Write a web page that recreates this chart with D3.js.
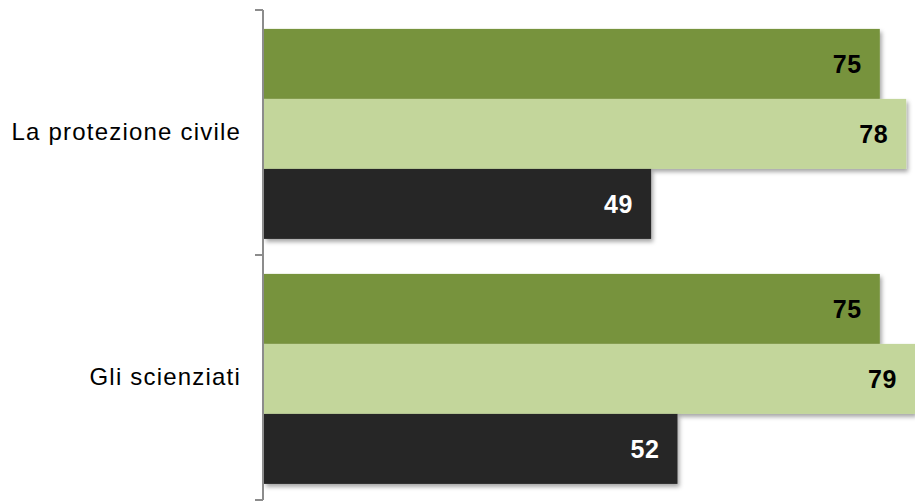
<!DOCTYPE html>
<html>
<head>
<meta charset="utf-8">
<script src="https://cdn.jsdelivr.net/npm/d3@7"></script>
<style>
  html, body { margin: 0; padding: 0; background: #ffffff; }
  svg { display: block; }
</style>
</head>
<body>
<svg id="chart" width="915" height="501"></svg>
<script>
// Categories (top to bottom) and the three series per category
const categories = ["La protezione civile", "Gli scienziati"];
const seriesKeys = ["s1", "s2", "s3"];
const seriesColors = ["#77933C", "#C3D69B", "#262626"];
const labelColors = ["#000000", "#000000", "#ffffff"];
const valuesS1 = [75, 75];
const valuesS2 = [78, 79];
const valuesS3 = [49, 52];
const seriesValues = [valuesS1, valuesS2, valuesS3];

const svg = d3.select("#chart");

const plotLeft = 264, plotRight = 915, plotTop = 10, plotBottom = 500;

// Drop shadow under the bars
const defs = svg.append("defs");
const f = defs.append("filter").attr("id", "shadow")
  .attr("x", "-5%").attr("y", "-20%").attr("width", "115%").attr("height", "150%");
f.append("feDropShadow").attr("dx", 2).attr("dy", 3)
  .attr("stdDeviation", 2.2).attr("flood-color", "#000").attr("flood-opacity", 0.35);

const x = d3.scaleLinear().domain([5, 79]).range([plotLeft, plotRight]);
const y = d3.scaleBand().domain(categories).range([plotTop, plotBottom]).paddingInner(0).paddingOuter(0);
const ySub = d3.scaleBand().domain(seriesKeys).range([0, y.bandwidth()])
  .paddingInner(0).paddingOuter(0.25).align(0.54);

const rows = [];
categories.forEach((c, ci) => {
  seriesKeys.forEach((k, si) => {
    rows.push({ cat: c, key: k, si, value: seriesValues[si][ci] });
  });
});

svg.append("g").selectAll("rect").data(rows).join("rect")
  .attr("x", x(5))
  .attr("y", d => y(d.cat) + ySub(d.key))
  .attr("width", d => x(d.value) - x(5))
  .attr("height", ySub.bandwidth())
  .attr("fill", d => seriesColors[d.si])
  .attr("filter", "url(#shadow)");

// Value labels inside the bar ends
svg.append("g").selectAll("text").data(rows).join("text")
  .attr("x", d => x(d.value) - 18)
  .attr("y", d => y(d.cat) + ySub(d.key) + ySub.bandwidth() / 2)
  .attr("dy", "0.36em")
  .attr("text-anchor", "end")
  .attr("font-family", "Liberation Sans, Arial, sans-serif")
  .attr("font-weight", "bold")
  .attr("font-size", 25)
  .attr("letter-spacing", 0.6)
  .attr("fill", d => labelColors[d.si])
  .text(d => d.value);

// Category axis
const yAxis = d3.axisLeft(y).tickSize(0).tickPadding(23);
const ax = svg.append("g").attr("transform", `translate(${plotLeft},0)`).call(yAxis);
ax.select(".domain").remove();
ax.selectAll("text")
  .attr("font-family", "Liberation Sans, Arial, sans-serif")
  .attr("font-size", 24)
  .attr("letter-spacing", 1.2)
  .attr("fill", "#000");

// Axis line with boundary ticks between categories
const boundaries = categories.map(c => y(c)).concat([y(categories[categories.length - 1]) + y.bandwidth()]);
const axisG = svg.append("g").attr("stroke", "#8c8c8c").attr("stroke-width", 2);
axisG.append("line").attr("x1", plotLeft - 1).attr("x2", plotLeft - 1)
  .attr("y1", plotTop).attr("y2", plotBottom);
axisG.selectAll("line.tick").data(boundaries).join("line").attr("class", "tick")
  .attr("x1", plotLeft - 9).attr("x2", plotLeft - 1)
  .attr("y1", d => d).attr("y2", d => d);
</script>
</body>
</html>
